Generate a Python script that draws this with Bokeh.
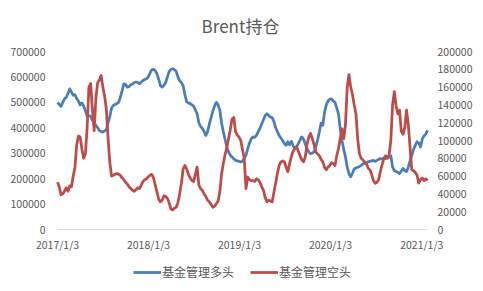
import pandas as pd
from bokeh.plotting import figure
from bokeh.models import (Range1d, LinearAxis, FixedTicker, Legend, LegendItem,
                          NumeralTickFormatter, ColumnDataSource)
from bokeh.core.properties import value
from bokeh.embed import file_html
from bokeh.resources import INLINE

title_text = "Brent持仓"
series_names = ["基金管理多头", "基金管理空头"]
start_date = "2017-01-03"

# 基金管理多头 (left axis), thousands of contracts, weekly
long_k = [
    500, 492, 484, 500, 513, 520, 535, 553, 540, 528, 530, 515, 505, 490, 498, 485, 468, 445, 448, 445,
    430, 420, 410, 400, 389, 385, 383, 388, 392, 420, 445, 478, 488, 492, 495, 500, 520, 545, 573, 570,
    560, 562, 569, 572, 578, 580, 578, 573, 580, 586, 590, 593,
    600, 615, 628, 630, 625, 612, 590, 565, 560, 567, 578, 600, 622, 630, 632, 628, 622, 600, 585, 578,
    565, 530, 502, 498, 495, 490, 485, 470, 455, 420, 405, 398, 385, 370, 385, 415, 440, 465, 485, 500,
    490, 470, 420, 385, 355, 325, 305, 292, 285, 278, 272, 270,
    268, 265, 268, 280, 292, 318, 340, 357, 364, 362, 370, 385, 398, 415, 432, 448, 455, 448, 442, 440,
    425, 400, 385, 370, 360, 350, 338, 331, 345, 333, 347, 330, 318, 325, 338, 352, 364, 355, 335, 318,
    305, 298, 300, 305, 325, 352, 383, 418, 410, 460, 490, 505,
    512, 514, 505, 500, 478, 455, 396, 350, 315, 285, 245, 220, 207, 222, 238, 242, 245, 248, 252, 258,
    260, 262, 266, 268, 270, 272, 268, 272, 276, 279, 278, 280, 279, 282, 285, 290, 245, 232, 228, 225,
    220, 230, 240, 232, 228, 245, 270, 292, 315, 331, 345, 340, 325, 355, 368, 375, 390,
]

# 基金管理空头 (right axis), thousands of contracts, weekly
short_k = [
    53, 48, 39, 40, 43, 47, 43, 49, 48, 60, 70, 95, 105, 104, 90, 80, 85, 115, 160, 164,
    135, 111, 148, 165, 168, 173, 160, 150, 135, 102, 75, 60, 61, 62, 63, 62, 61, 58, 56, 53,
    51, 48, 46, 44, 43, 45, 47, 46, 50, 54, 56, 57,
    59, 61, 62, 58, 50, 42, 34, 31, 33, 38, 37, 35, 30, 23, 22, 24, 25, 30, 40, 52,
    68, 72, 68, 62, 58, 55, 54, 62, 70, 50, 46, 44, 40, 37, 33, 31, 28, 25, 26, 29,
    32, 42, 62, 74, 84, 92, 102, 112, 124, 126, 110, 106,
    104, 100, 90, 80, 46, 59, 56, 55, 55, 54, 57, 56, 53, 48, 44, 36, 31, 33, 32, 31,
    42, 52, 63, 72, 76, 77, 76, 70, 65, 74, 82, 88, 91, 93, 88, 83, 78, 76, 82, 96,
    104, 108, 102, 95, 87, 85, 83, 79, 76, 70, 67, 70, 72, 75, 74, 72,
    83, 91, 102, 113, 102, 118, 160, 174, 160, 152, 140, 130, 102, 85, 80, 78, 76, 74, 69, 67,
    62, 55, 52, 53, 56, 65, 73, 80, 83, 80, 84, 100, 140, 155, 139, 130, 134, 110, 107, 115,
    134, 118, 92, 67, 66, 64, 61, 52, 56, 58, 55, 57, 55,
]

x_tick_labels = ["2017/1/3", "2018/1/3", "2019/1/3", "2020/1/3", "2021/1/3"]
left_ticks = [0, 100000, 200000, 300000, 400000, 500000, 600000, 700000]
right_ticks = [0, 20000, 40000, 60000, 80000, 100000, 120000, 140000, 160000, 180000, 200000]

assert len(long_k) == len(short_k), (len(long_k), len(short_k))

dates = pd.date_range(start_date, periods=len(long_k), freq="7D")
src = ColumnDataSource(dict(
    date=dates,
    long=[v * 1000 for v in long_k],
    short=[v * 1000 for v in short_k],
))
tick_src = ColumnDataSource(dict(
    date=pd.to_datetime(x_tick_labels, format="%Y/%m/%d"),
    base=[left_ticks[0]] * len(x_tick_labels),
    label=x_tick_labels,
))
base_src = ColumnDataSource(dict(date=[dates[0], dates[-1]],
                                 base=[left_ticks[0], left_ticks[0]]))

FONT = "Noto Sans CJK SC"
GREY = "#595959"
BLUE = "#4A7EBB"
RED = "#BE4B48"

# layout in pixels
PLOT_W = 370           # width of the data area
PAD_L, PAD_R = 27, 23  # room inside the frame for the edge date labels
PLOT_H = 178           # height of the data area
BELOW_H = 62           # band below the data area for date labels + legend

t0 = dates[0]
t1 = dates[-1]
px_per_day = PLOT_W / ((t1 - t0) / pd.Timedelta(days=1))
x_lo = t0 - pd.Timedelta(days=PAD_L / px_per_day)
x_hi = t1 + pd.Timedelta(days=PAD_R / px_per_day)

frac = BELOW_H / PLOT_H
l_lo = left_ticks[0] - (left_ticks[-1] - left_ticks[0]) * frac
r_lo = right_ticks[0] - (right_ticks[-1] - right_ticks[0]) * frac

p = figure(frame_width=PLOT_W + PAD_L + PAD_R, frame_height=PLOT_H + BELOW_H,
           x_axis_location=None, x_axis_type="datetime",
           output_backend="svg", toolbar_location=None,
           x_range=Range1d(x_lo, x_hi),
           y_range=Range1d(l_lo, left_ticks[-1]),
           min_border_left=57 - PAD_L, min_border_right=56 - PAD_R,
           min_border_top=51, min_border_bottom=0)
p.extra_y_ranges = {"r": Range1d(r_lo, right_ticks[-1])}

p.title.text = title_text
p.title.align = "center"
p.title.vertical_align = "top"
p.title.text_font = FONT
p.title.text_font_size = "17px"
p.title.text_font_style = "normal"
p.title.text_color = GREY
p.title.standoff = 24

p.outline_line_color = None
p.grid.visible = False
p.background_fill_color = "white"
p.border_fill_color = "white"

def style_axis(ax):
    ax.major_tick_line_color = None
    ax.minor_tick_line_color = None
    ax.major_tick_out = 0
    ax.major_tick_in = 0
    ax.minor_tick_out = 0
    ax.minor_tick_in = 0
    ax.axis_line_color = None
    ax.major_label_text_font = FONT
    ax.major_label_text_font_size = "10.5px"
    ax.major_label_text_color = GREY

# left axis (labels end 12 px left of the data area)
ya = p.yaxis[0]
ya.ticker = FixedTicker(ticks=left_ticks)
ya.formatter = NumeralTickFormatter(format="0")
style_axis(ya)
ya.major_label_standoff = 12 - PAD_L

# right axis (labels start 10 px right of the data area)
ra = LinearAxis(y_range_name="r", ticker=FixedTicker(ticks=right_ticks),
                formatter=NumeralTickFormatter(format="0"))
style_axis(ra)
ra.major_label_standoff = 10 - PAD_R
p.add_layout(ra, "right")

# date axis line and labels
p.line(x="date", y="base", source=base_src, line_color="#D9D9D9", line_width=1)
p.text(x="date", y="base", text="label", source=tick_src,
       text_align="center", text_baseline="middle", y_offset=15,
       text_font=value(FONT), text_font_size="10.5px", text_color=GREY)

r1 = p.line("date", "long", source=src, color=BLUE, line_width=2.75, line_join="round")
r2 = p.line("date", "short", source=src, color=RED, line_width=2.75, line_join="round",
            y_range_name="r")

legend = Legend(items=[LegendItem(label=series_names[0], renderers=[r1]),
                       LegendItem(label=series_names[1], renderers=[r2])],
                orientation="horizontal", location=(PAD_L + 76, 11),
                glyph_width=28, glyph_height=12, label_standoff=1, spacing=16,
                padding=0, margin=0, border_line_color=None, background_fill_alpha=0,
                label_text_font=FONT, label_text_font_size="12px", label_text_color=GREY)
p.add_layout(legend, "center")

open("out.html", "w").write(file_html(p, INLINE))
